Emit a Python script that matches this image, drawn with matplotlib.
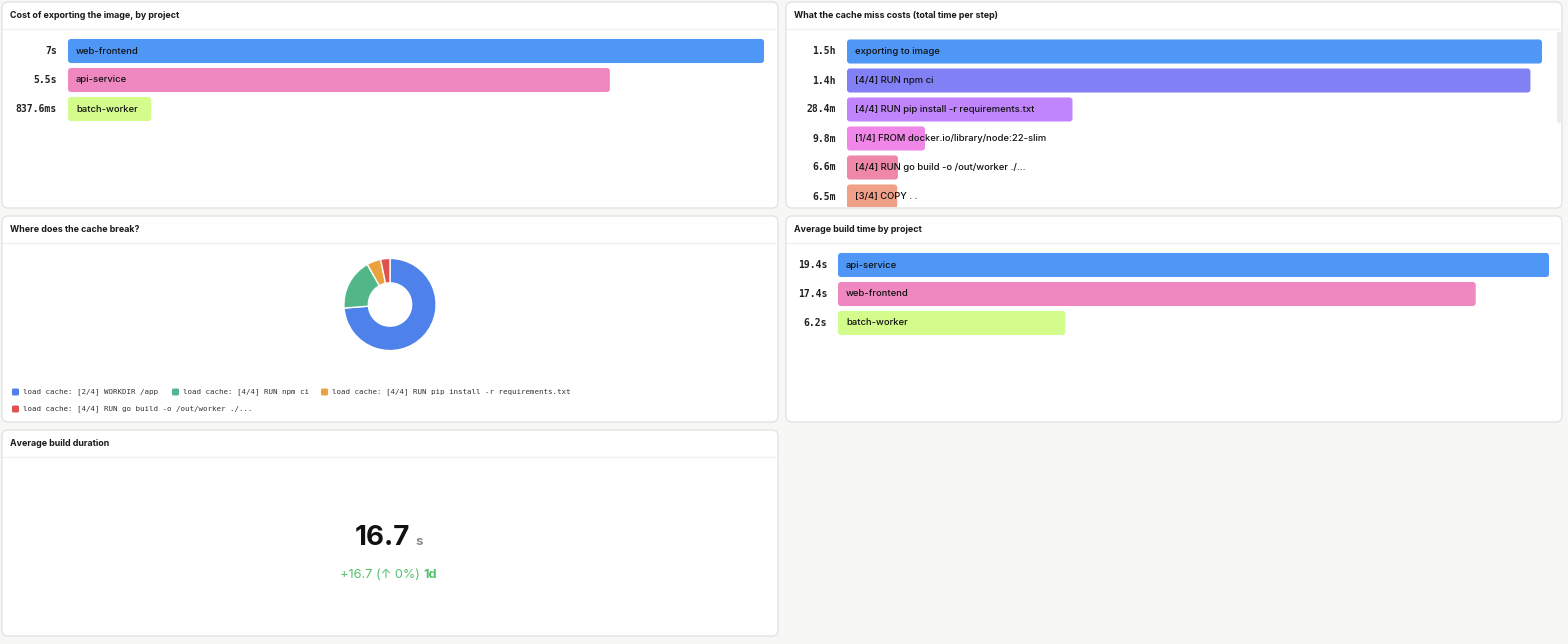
import matplotlib
matplotlib.use("Agg")
import matplotlib.pyplot as plt
from matplotlib.patches import FancyBboxPatch

W, H = 1568, 644

# data
export_projects = ["web-frontend", "api-service", "batch-worker"]
export_seconds = [7.0, 5.45, 0.8376]
export_labels = ["7s", "5.5s", "837.6ms"]

miss_steps = ["exporting to image", "[4/4] RUN npm ci", "[4/4] RUN pip install -r requirements.txt",
              "[1/4] FROM docker.io/library/node:22-slim", "[4/4] RUN go build -o /out/worker ./...",
              "[3/4] COPY . ."]
miss_minutes = [90.0, 88.5, 29.2, 10.1, 6.6, 6.5]
miss_labels = ["1.5h", "1.4h", "28.4m", "9.8m", "6.6m", "6.5m"]

break_steps = ["load cache: [2/4] WORKDIR /app", "load cache: [4/4] RUN npm ci",
               "load cache: [4/4] RUN pip install -r requirements.txt",
               "load cache: [4/4] RUN go build -o /out/worker ./..."]
break_counts = [45, 11, 3, 2]

build_projects = ["api-service", "web-frontend", "batch-worker"]
build_seconds = [19.4, 17.4, 6.2]
build_labels = ["19.4s", "17.4s", "6.2s"]

avg_duration = 16.7
avg_unit = "s"
avg_delta = "+16.7 (\u2191 0%)"
avg_period = "1d"

rank_colors = ["#4f97f7", "#ef88c0", "#d4fc8c"]
miss_colors = ["#4f97f7", "#8180f5", "#c084fc", "#f086e8", "#ef87a8", "#f0a088"]
break_colors = ["#4f81ea", "#52b788", "#eba23d", "#e0524f"]

SANS = ["Inter", "DejaVu Sans"]
MONO = "DejaVu Sans Mono"
ROW_PX = 29


def px(x0, y0, x1, y1):
    return [x0 / W, 1 - y1 / H, (x1 - x0) / W, (y1 - y0) / H]


fig = plt.figure(figsize=(W / 100, H / 100), dpi=100)
fig.patch.set_facecolor("#f7f7f5")
bg = fig.add_axes([0, 0, 1, 1])
bg.set_xlim(0, W)
bg.set_ylim(H, 0)
bg.axis("off")

panels = [
    (2, 2, 778, 208, "Cost of exporting the image, by project"),
    (786, 2, 1562, 208, "What the cache miss costs (total time per step)"),
    (2, 216, 778, 422, "Where does the cache break?"),
    (786, 216, 1562, 422, "Average build time by project"),
    (2, 430, 778, 636, "Average build duration"),
]
for x0, y0, x1, y1, title in panels:
    bg.add_patch(FancyBboxPatch((x0, y0), x1 - x0, y1 - y0,
                                boxstyle="round,pad=0,rounding_size=6",
                                fc="white", ec="#e3e3e3", lw=1))
    bg.plot([x0 + 1, x1 - 1], [y0 + 27, y0 + 27], color="#f0f0f0", lw=1)
    bg.text(x0 + 8, y0 + 13, title, family=SANS, fontsize=6.4, weight="bold",
            color="#1a1a1a", va="center", ha="left")

# scrollbar of the cache miss panel
bg.add_patch(FancyBboxPatch((1557, 32), 4, 91, boxstyle="round,pad=0,rounding_size=2",
                            fc="#ebebeb", ec="none"))


def bar_panel(rect, names, values, labels, colors, xmax, ybottom):
    ax = fig.add_axes(px(*rect))
    bars = ax.barh(range(len(values)), values, height=0.83, color=colors)
    ax.set_xlim(0, xmax)
    ax.set_ylim(ybottom, -0.5)
    ax.axis("off")
    # rounded corners: swap each bar for a rounded box of the same geometry
    x_per_px = xmax / (rect[2] - rect[0])
    y_per_px = 1.0 / ROW_PX
    for b in bars:
        b.set_visible(False)
        ax.add_patch(FancyBboxPatch((b.get_x(), b.get_y()), b.get_width(), b.get_height(),
                                    boxstyle=f"round,pad=0,rounding_size={3 * x_per_px}",
                                    mutation_aspect=y_per_px / x_per_px,
                                    fc=b.get_facecolor(), ec="none"))
    for i, (n, lab) in enumerate(zip(names, labels)):
        ax.annotate(lab, xy=(0, i), xytext=(-11, 0), textcoords="offset pixels",
                    ha="right", va="center", family=MONO, fontsize=7,
                    weight="bold", color="#222222")
        ax.annotate(n, xy=(0, i), xytext=(8, 0), textcoords="offset pixels",
                    ha="left", va="center", family=SANS, fontsize=6.8,
                    weight="medium", color="#111111")
    return ax


bar_panel((68, 36.5, 764, 123.5), export_projects, export_seconds, export_labels,
          rank_colors, 7.0, 2.5)
bar_panel((847, 37, 1542, 207), miss_steps, miss_minutes, miss_labels,
          miss_colors, 90.0, -0.5 + 170 / ROW_PX)
bar_panel((838, 250.5, 1549, 337.5), build_projects, build_seconds, build_labels,
          rank_colors, 19.4, 2.5)

# donut
ax = fig.add_axes(px(343, 257.5, 437, 351.5))
ax.pie(break_counts, colors=break_colors, startangle=90, counterclock=False, radius=1,
       wedgeprops=dict(width=0.53, edgecolor="white", linewidth=1))
ax.set_xlim(-1.02, 1.02)
ax.set_ylim(-1.02, 1.02)
ax.set_aspect("equal")
ax.axis("off")

legend_pos = [(12, 392), (172, 392), (321, 392), (12, 409)]
for (lx, ly), lab, col in zip(legend_pos, break_steps, break_colors):
    bg.add_patch(FancyBboxPatch((lx, ly - 3.5), 7, 7, boxstyle="round,pad=0,rounding_size=1.5",
                                fc=col, ec="none"))
    bg.text(lx + 11, ly, lab, family=MONO, fontsize=5.4, color="#333333",
            va="center", ha="left")

# big number
bg.text(410, 545, f"{avg_duration:g}", family=SANS, fontsize=20, weight="bold",
        color="#111111", ha="right", va="baseline")
bg.text(415, 545, avg_unit, family=SANS, fontsize=9.5, weight="bold",
        color="#8a8a8a", ha="left", va="baseline")
bg.text(420, 578, avg_delta, family=SANS, fontsize=9.2, color="#55c26b",
        ha="right", va="baseline")
bg.text(423, 578, avg_period, family=SANS, fontsize=9.2, weight="bold", color="#55c26b",
        ha="left", va="baseline")

fig.savefig("out.png", dpi=100, facecolor=fig.get_facecolor())
